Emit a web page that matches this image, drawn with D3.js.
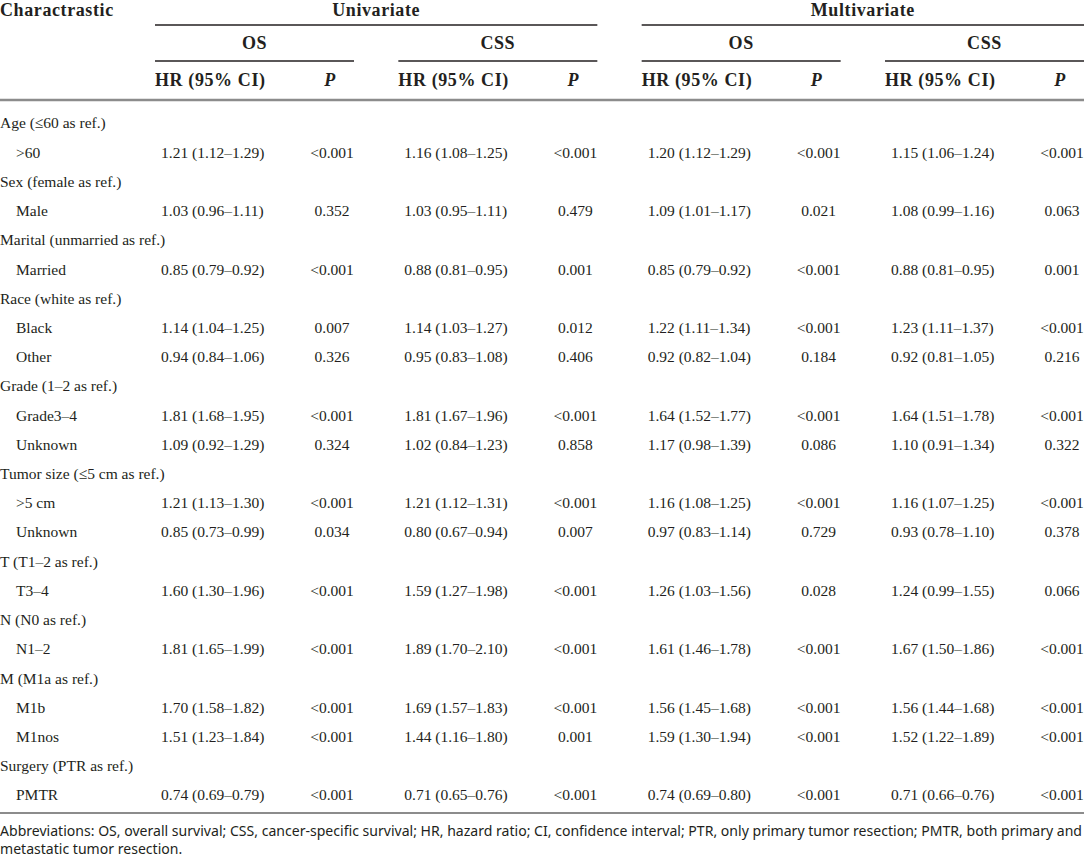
<!DOCTYPE html>
<html>
  <head>
    <title>Cox regression table</title>
    <script src="https://d3js.org/d3.v7.min.js" charset="utf-8"></script>
    <style type="text/css">
      body { margin: 0; background: #fff; }
      text { fill: #231f20; }
      .serif { font-family: "Liberation Serif", "Times New Roman", serif; }
      .head { font-weight: bold; font-size: 18px; letter-spacing: 0.6px; }
      .cell { font-size: 15.5px; }
      .note { font-family: "Noto Sans", "Open Sans", sans-serif; font-size: 13.5px; fill: #333; }
    </style>
  </head>

  <body>
    <script type="text/javascript">

      // Row groups (reference level) and their levels
      var categories = ["Age (≤60 as ref.)", "Sex (female as ref.)", "Marital (unmarried as ref.)",
        "Race (white as ref.)", "Grade (1–2 as ref.)", "Tumor size (≤5 cm as ref.)",
        "T (T1–2 as ref.)", "N (N0 as ref.)", "M (M1a as ref.)", "Surgery (PTR as ref.)"];
      var levels = [[">60"], ["Male"], ["Married"], ["Black", "Other"], ["Grade3–4", "Unknown"],
        [">5 cm", "Unknown"], ["T3–4"], ["N1–2"], ["M1b", "M1nos"], ["PMTR"]];

      // Univariate, OS
      var uniOsHR = ["1.21 (1.12–1.29)", "1.03 (0.96–1.11)", "0.85 (0.79–0.92)", "1.14 (1.04–1.25)",
        "0.94 (0.84–1.06)", "1.81 (1.68–1.95)", "1.09 (0.92–1.29)", "1.21 (1.13–1.30)",
        "0.85 (0.73–0.99)", "1.60 (1.30–1.96)", "1.81 (1.65–1.99)", "1.70 (1.58–1.82)",
        "1.51 (1.23–1.84)", "0.74 (0.69–0.79)"];
      var uniOsP = ["<0.001", "0.352", "<0.001", "0.007", "0.326", "<0.001", "0.324", "<0.001",
        "0.034", "<0.001", "<0.001", "<0.001", "<0.001", "<0.001"];
      // Univariate, CSS
      var uniCssHR = ["1.16 (1.08–1.25)", "1.03 (0.95–1.11)", "0.88 (0.81–0.95)", "1.14 (1.03–1.27)",
        "0.95 (0.83–1.08)", "1.81 (1.67–1.96)", "1.02 (0.84–1.23)", "1.21 (1.12–1.31)",
        "0.80 (0.67–0.94)", "1.59 (1.27–1.98)", "1.89 (1.70–2.10)", "1.69 (1.57–1.83)",
        "1.44 (1.16–1.80)", "0.71 (0.65–0.76)"];
      var uniCssP = ["<0.001", "0.479", "0.001", "0.012", "0.406", "<0.001", "0.858", "<0.001",
        "0.007", "<0.001", "<0.001", "<0.001", "0.001", "<0.001"];
      // Multivariate, OS
      var mulOsHR = ["1.20 (1.12–1.29)", "1.09 (1.01–1.17)", "0.85 (0.79–0.92)", "1.22 (1.11–1.34)",
        "0.92 (0.82–1.04)", "1.64 (1.52–1.77)", "1.17 (0.98–1.39)", "1.16 (1.08–1.25)",
        "0.97 (0.83–1.14)", "1.26 (1.03–1.56)", "1.61 (1.46–1.78)", "1.56 (1.45–1.68)",
        "1.59 (1.30–1.94)", "0.74 (0.69–0.80)"];
      var mulOsP = ["<0.001", "0.021", "<0.001", "<0.001", "0.184", "<0.001", "0.086", "<0.001",
        "0.729", "0.028", "<0.001", "<0.001", "<0.001", "<0.001"];
      // Multivariate, CSS
      var mulCssHR = ["1.15 (1.06–1.24)", "1.08 (0.99–1.16)", "0.88 (0.81–0.95)", "1.23 (1.11–1.37)",
        "0.92 (0.81–1.05)", "1.64 (1.51–1.78)", "1.10 (0.91–1.34)", "1.16 (1.07–1.25)",
        "0.93 (0.78–1.10)", "1.24 (0.99–1.55)", "1.67 (1.50–1.86)", "1.56 (1.44–1.68)",
        "1.52 (1.22–1.89)", "0.71 (0.66–0.76)"];
      var mulCssP = ["<0.001", "0.063", "0.001", "<0.001", "0.216", "<0.001", "0.322", "<0.001",
        "0.378", "0.066", "<0.001", "<0.001", "<0.001", "<0.001"];

      var analyses = ["Univariate", "Multivariate"];
      var outcomes = ["OS", "CSS"];
      var noteLines = ["Abbreviations: OS, overall survival; CSS, cancer-specific survival; HR, hazard ratio; CI, confidence interval; PTR, only primary tumor resection; PMTR, both primary and",
        "metastatic tumor resection."];

      var width = 1084, height = 859;
      var svg = d3.select("body").append("svg")
          .attr("width", width)
          .attr("height", height);

      // flatten rows: group header rows then level rows
      var rows = [];
      var k = 0;
      categories.forEach(function(c, i) {
        rows.push({ label: c, group: true });
        levels[i].forEach(function(l) {
          rows.push({ label: l, group: false,
            vals: [uniOsHR[k], uniOsP[k], uniCssHR[k], uniCssP[k], mulOsHR[k], mulOsP[k], mulCssHR[k], mulCssP[k]] });
          k++;
        });
      });

      // scales
      var y = d3.scalePoint().domain(d3.range(rows.length)).range([123, 795]);
      var blockX = d3.scaleLinear().domain([0, 3]).range([155, 885]);  // left of each OS/CSS block
      var blockW = 199;
      var pOff = 177;   // centre of P column inside block
      var hrPad = 6;    // data indent inside HR column

      // ----- header -----
      var head = svg.append("g").attr("class", "serif head");
      // baseline kept low enough that ascenders stay on the page
      head.append("text").attr("x", 0).attr("y", 16).text("Charactrastic");

      analyses.forEach(function(a, i) {
        var x0 = blockX(i * 2), x1 = blockX(i * 2 + 1) + blockW;
        head.append("text").attr("x", (x0 + x1) / 2).attr("y", 16)
            .attr("text-anchor", "middle").text(a);
        svg.append("line").attr("x1", x0).attr("x2", x1).attr("y1", 25).attr("y2", 25)
            .style("stroke", "#231f20").style("stroke-width", 1.6);
      });

      d3.range(4).forEach(function(b) {
        var x0 = blockX(b);
        head.append("text").attr("x", x0 + blockW / 2).attr("y", 43).attr("dy", "0.35em")
            .attr("text-anchor", "middle").text(outcomes[b % 2]);
        svg.append("line").attr("x1", x0).attr("x2", x0 + blockW).attr("y1", 61).attr("y2", 61)
            .style("stroke", "#231f20").style("stroke-width", 1.6);
        head.append("text").attr("x", x0).attr("y", 80).attr("dy", "0.35em").text("HR (95% CI)");
        head.append("text").attr("x", x0 + pOff - 2).attr("y", 80).attr("dy", "0.35em")
            .attr("text-anchor", "middle").style("font-style", "italic").text("P");
      });

      svg.append("line").attr("x1", 0).attr("x2", width).attr("y1", 100).attr("y2", 100)
          .style("stroke", "#8c8c8c").style("stroke-width", 2.5);

      // ----- body -----
      var body = svg.append("g").attr("class", "serif cell");
      var rowG = body.selectAll("g.row").data(rows).enter().append("g")
          .attr("class", "row")
          .attr("transform", function(d, i) { return "translate(0," + y(i) + ")"; });

      rowG.append("text")
          .attr("x", function(d) { return d.group ? 0 : 16; })
          .attr("dy", "0.35em")
          .text(function(d) { return d.label; });

      rowG.filter(function(d) { return !d.group; }).each(function(d) {
        var g = d3.select(this);
        d3.range(4).forEach(function(b) {
          g.append("text").attr("x", blockX(b) + hrPad).attr("dy", "0.35em").text(d.vals[b * 2]);
          g.append("text").attr("x", blockX(b) + pOff).attr("dy", "0.35em")
              .attr("text-anchor", "middle").text(d.vals[b * 2 + 1]);
        });
      });

      svg.append("line").attr("x1", 0).attr("x2", width).attr("y1", 813).attr("y2", 813)
          .style("stroke", "#8c8c8c").style("stroke-width", 2);

      // ----- footnote (condensed to the page width) -----
      var notes = svg.append("g").attr("class", "note");
      var n1 = notes.append("text").attr("x", 0).attr("y", 836).text(noteLines[0]);
      var natural = n1.node().getComputedTextLength();
      var ratio = 1082 / natural;
      n1.attr("textLength", 1082).attr("lengthAdjust", "spacingAndGlyphs");
      var n2 = notes.append("text").attr("x", 0).attr("y", 854).text(noteLines[1]);
      n2.attr("textLength", n2.node().getComputedTextLength() * ratio).attr("lengthAdjust", "spacingAndGlyphs");

    </script>
  </body>
</html>
